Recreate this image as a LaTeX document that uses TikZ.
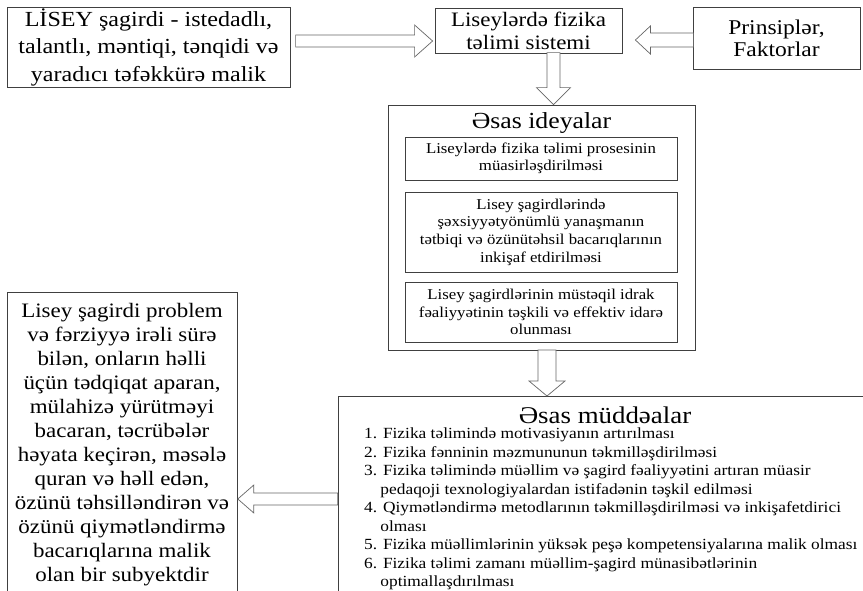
\documentclass[tikz,border=0pt]{standalone}
\usepackage{fontspec}
\setmainfont[FakeStretch=1.12]{Liberation Serif}
\tikzset{
  box/.style={draw=black!75, line width=0.8pt, inner sep=0pt, align=center},
  arrowline/.style={draw=black!60, line width=0.7pt, fill=white}
}
\newcommand{\hollowarrow}[6]{%
  \draw[arrowline, shift={(#1)}, rotate=#2] (-#3pt,#4pt) -- (-#6pt,#4pt) -- (-#6pt,#5pt) -- (0,0)
    -- (-#6pt,-#5pt) -- (-#6pt,-#4pt) -- (-#3pt,-#4pt) -- cycle;}
\begin{document}
\begin{tikzpicture}[x=1pt,y=-1pt]
                \useasboundingbox (0,0) rectangle (863,590);
                \clip (0,0) rectangle (863,590);

                \node[box, minimum width=283, minimum height=80, font=\fontsize{21.5}{27.5}\selectfont] (lisey) at (148.5,47)
                    {LİSEY şagirdi - istedadlı,\\ talantlı, məntiqi, tənqidi və\\ yaradıcı təfəkkürə malik};
                \node[box, minimum width=187, minimum height=45, font=\fontsize{20.5}{23}\selectfont] (sys) at (528.5,30.5)
                    {Liseylərdə fizika\\ təlimi sistemi};
                \node[box, minimum width=167, minimum height=62, font=\fontsize{21}{22}\selectfont] (prin) at (776.5,38)
                    {Prinsiplər,\\ Faktorlar};

                \node[box, minimum width=307, minimum height=245] (ideya) at (541.5,227.5) {};
                \node[font=\fontsize{23}{24}\selectfont] (ideyatitle) at (541.5,123) {Əsas ideyalar};
                \node[box, minimum width=272, minimum height=43, font=\fontsize{15}{17.5}\selectfont] (idea1) at (541,158.5)
                    {Liseylərdə fizika təlimi prosesinin\\ müasirləşdirilməsi};
                \node[box, minimum width=272, minimum height=80, font=\fontsize{15}{17.7}\selectfont] (idea2) at (541,232)
                    {Lisey şagirdlərində\\ şəxsiyyətyönümlü yanaşmanın\\ tətbiqi və özünütəhsil bacarıqlarının\\ inkişaf etdirilməsi};
                \node[box, minimum width=272, minimum height=60, font=\fontsize{15}{17.7}\selectfont] (idea3) at (541,312)
                    {Lisey şagirdlərinin müstəqil idrak\\ fəaliyyətinin təşkili və effektiv idarə\\ olunması};

                \node[box, anchor=north west, minimum width=230, minimum height=320] (subj) at (7,292) {};
                \node[anchor=north, inner sep=0pt, align=center, font=\fontsize{20.5}{24}\selectfont] (subjtext) at (122,303)
                    {Lisey şagirdi problem\\ və fərziyyə irəli sürə\\ bilən, onların həlli\\ üçün tədqiqat aparan,\\
                     mülahizə yürütməyi\\ bacaran, təcrübələr\\ həyata keçirən, məsələ\\ quran və həll edən,\\
                     özünü təhsilləndirən və\\ özünü qiymətləndirmə\\ bacarıqlarına malik\\ olan bir subyektdir};

                \node[box, anchor=north west, minimum width=540, minimum height=210] (mudd) at (338,396) {};
                \node[font=\fontsize{24}{25}\selectfont] (muddtitle) at (605,415) {Əsas müddəalar};
                \node[anchor=north west, inner sep=0pt, align=left, font=\fontsize{15.5}{18.5}\selectfont] (muddlist) at (364,428)
                    {1. Fizika təlimində motivasiyanın artırılması\\
                     2. Fizika fənninin məzmununun təkmilləşdirilməsi\\
                     3. Fizika təlimində müəllim və şagird fəaliyyətini artıran müasir\\
                     \hspace*{1.05em}pedaqoji texnologiyalardan istifadənin təşkil edilməsi\\
                     4. Qiymətləndirmə metodlarının təkmilləşdirilməsi və inkişafetdirici\\
                     \hspace*{1.05em}olması\\
                     5. Fizika müəllimlərinin yüksək peşə kompetensiyalarına malik olması\\
                     6. Fizika təlimi zamanı müəllim-şagird münasibətlərinin\\
                     \hspace*{1.05em}optimallaşdırılması};

                \coordinate (tipa) at ([xshift=-2pt, yshift=-10.5pt]sys.west);
                \coordinate (tipb) at ([xshift=13pt, yshift=-9.5pt]sys.east);
                \coordinate (tipc) at ([xshift=12pt]ideya.north);
                \coordinate (tipd) at ([xshift=5.5pt]mudd.north west -| ideya.south);
                \coordinate (tipe) at ([yshift=-207pt]subj.north east);

                \hollowarrow{tipa}{0}{137}{6}{16}{18}
                \hollowarrow{tipb}{180}{58}{7}{14}{15}
                \hollowarrow{tipc}{-90}{52}{6.5}{17}{17}
                \hollowarrow{tipd}{-90}{46}{9}{18}{15}
                \hollowarrow{tipe}{180}{100}{6}{14}{16}
            \end{tikzpicture}
\end{document}
